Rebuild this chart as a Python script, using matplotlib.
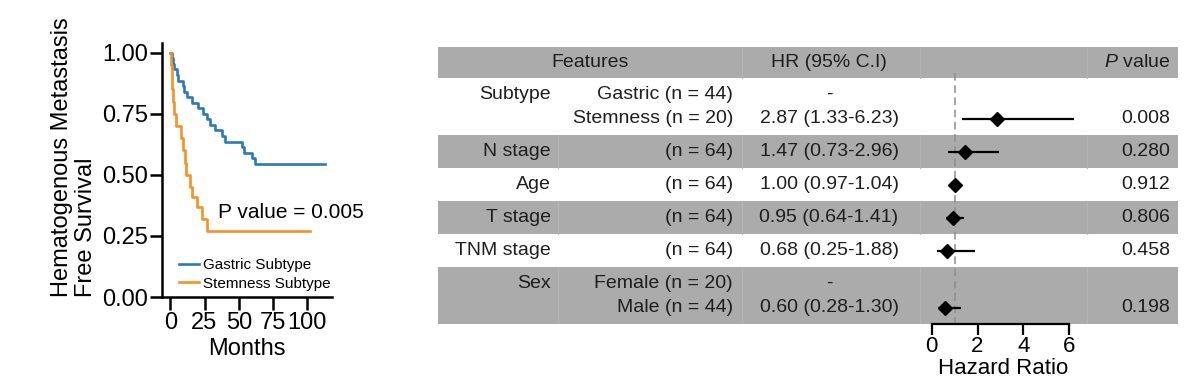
import matplotlib
matplotlib.use("Agg")
import matplotlib.pyplot as plt
import numpy as np

plt.rcParams['font.family'] = ['Liberation Sans', 'DejaVu Sans']
plt.rcParams['mathtext.fontset'] = 'custom'
plt.rcParams['mathtext.rm'] = 'Liberation Sans'
plt.rcParams['mathtext.it'] = 'Liberation Sans:italic'

# Kaplan-Meier curves (months, survival after each drop)
gastric_t = [0, 1, 2, 3, 5, 6, 9, 10, 12, 16, 20, 24, 27, 29, 33, 38, 40, 52, 54, 60, 62, 113]
gastric_s = [1.0, 0.977, 0.955, 0.932, 0.909, 0.886, 0.864, 0.841, 0.818, 0.795, 0.773,
             0.750, 0.727, 0.705, 0.682, 0.659, 0.636, 0.614, 0.591, 0.568, 0.545, 0.545]
stem_t = [0, 0.5, 1, 1.5, 2, 2.5, 4, 8, 9.5, 11, 11.5, 14.5, 16, 19.5, 23, 27, 102]
stem_s = [1.0, 0.95, 0.90, 0.85, 0.80, 0.75, 0.70, 0.65, 0.60, 0.55, 0.50, 0.45,
          0.41, 0.37, 0.32, 0.27, 0.27]
km_labels = ["Gastric Subtype", "Stemness Subtype"]
p_text = "P value = 0.005"

# forest table
features = ["Subtype", "N stage", "Age", "T stage", "TNM stage", "Sex"]
groups = [["Gastric (n = 44)", "Stemness (n = 20)"], ["(n = 64)"], ["(n = 64)"],
          ["(n = 64)"], ["(n = 64)"], ["Female (n = 20)", "Male (n = 44)"]]
hr_text = [["-", "2.87 (1.33-6.23)"], ["1.47 (0.73-2.96)"], ["1.00 (0.97-1.04)"],
           ["0.95 (0.64-1.41)"], ["0.68 (0.25-1.88)"], ["-", "0.60 (0.28-1.30)"]]
hr = [2.87, 1.47, 1.00, 0.95, 0.68, 0.60]
hr_lo = [1.33, 0.73, 0.97, 0.64, 0.25, 0.28]
hr_hi = [6.23, 2.96, 1.04, 1.41, 1.88, 1.30]
pvals = ["0.008", "0.280", "0.912", "0.806", "0.458", "0.198"]

blue = '#2E78B7'
orange = '#F39323'
grey = '#ABABAB'
txt = '#1E1E1E'

W, H = 1200, 383
fig = plt.figure(figsize=(12, 3.83), dpi=100)


def px_axes(x0, y0, x1, y1):
    # axes from pixel box (top-left origin)
    return fig.add_axes([x0 / W, (H - y1) / H, (x1 - x0) / W, (y1 - y0) / H])


# ---- KM plot ----
ax = px_axes(162, 43, 332, 297)
ax.step(gastric_t, gastric_s, where='post', color=blue, lw=1.9, label=km_labels[0])
ax.step(stem_t, stem_s, where='post', color=orange, lw=1.9, label=km_labels[1])
ax.set_xlim(-6, 118)
ax.set_ylim(0, 1.04)
ax.set_xticks([0, 25, 50, 75, 100])
ax.set_yticks([0, 0.25, 0.5, 0.75, 1.0])
ax.set_yticklabels(["0.00", "0.25", "0.50", "0.75", "1.00"])
for s in ['top', 'right']:
    ax.spines[s].set_visible(False)
for s in ['left', 'bottom']:
    ax.spines[s].set_linewidth(1.8)
ax.tick_params(axis='both', width=1.8, length=9, labelsize=17, color='black')
ax.tick_params(axis='y', pad=1)
ax.tick_params(axis='x', pad=2)
ax.set_xlabel("Months", fontsize=17, labelpad=3)
ax.set_ylabel("Hematogenous Metastasis\nFree Survival", fontsize=17,
              multialignment='left', linespacing=1.1)
ax.yaxis.set_label_coords(-0.385, 0.55)
ax.text(35, 0.348, p_text, fontsize=15, va='center', ha='left')
ax.legend(loc='lower left', bbox_to_anchor=(0.1, 0.025), frameon=False, fontsize=11,
          handlelength=1.3, handletextpad=0.25, labelspacing=0.3, borderpad=0,
          borderaxespad=0)

# ---- table ----
tab_x0, tab_x1 = 438, 1178
header_h, line_h, pad = 31, 24, 9
col_cuts = [558, 742, 920, 1087]
feat_x, grp_x, hr_x, p_x = 551, 733, 829, 1170

heights = [header_h] + [len(g) * line_h + pad for g in groups]
tops = np.concatenate([[47], 47 + np.cumsum(heights)])
tab_y1 = tops[-1]

axt = px_axes(tab_x0, 47, tab_x1, tab_y1)
axt.set_xlim(tab_x0, tab_x1)
axt.set_ylim(tab_y1, 47)
axt.axis('off')

shade = [True] + [i % 2 == 1 for i in range(len(features))]
for i, (top, h) in enumerate(zip(tops[:-1], heights)):
    if shade[i]:
        axt.axhspan(top, top + h, color=grey, lw=0, zorder=0)
        cuts = col_cuts[1:] if i == 0 else col_cuts
        for c in cuts:
            axt.plot([c, c], [top, top + h], color='#B4B4B4', lw=0.8, zorder=1)

fs = 14
hy = tops[0] + header_h / 2
axt.text((tab_x0 + col_cuts[1]) / 2, hy, "Features", ha='center', va='center', fontsize=fs, color=txt)
axt.text(hr_x, hy, "HR (95% C.I)", ha='center', va='center', fontsize=fs, color=txt)
axt.text(p_x, hy, "$P$ value", ha='right', va='center', fontsize=fs, color=txt)

mark_y = []
for i, name in enumerate(features):
    top = tops[i + 1]
    lines = [top + pad / 2 + line_h * (k + 0.5) for k in range(len(groups[i]))]
    axt.text(feat_x, lines[0], name, ha='right', va='center', fontsize=fs, color=txt)
    for k, y in enumerate(lines):
        axt.text(grp_x, y, groups[i][k], ha='right', va='center', fontsize=fs, color=txt)
        axt.text(hr_x, y, hr_text[i][k], ha='center', va='center', fontsize=fs, color=txt)
    axt.text(p_x, lines[-1], pvals[i], ha='right', va='center', fontsize=fs, color=txt)
    mark_y.append(lines[-1])

# ---- forest ----
axf = px_axes(col_cuts[2], 47, col_cuts[3], tab_y1)
axf.set_facecolor('none')
axf.set_ylim(tab_y1, 47)
axf.set_xlim(-11.7 / 22.9, (col_cuts[3] - col_cuts[2] - 11.7) / 22.9)
axf.plot([1, 1], [tops[1] - 5, tab_y1], color='#8C8C8C', lw=1.1, ls=(0, (5, 3)), zorder=2)
axf.hlines(mark_y, hr_lo, hr_hi, color='black', lw=1.6, zorder=3)
axf.plot(hr, mark_y, 'D', color='black', ms=7.5, zorder=4)
for s in ['top', 'right', 'left']:
    axf.spines[s].set_visible(False)
axf.spines['bottom'].set_bounds(0, 6)
axf.spines['bottom'].set_linewidth(1.6)
axf.set_yticks([])
axf.set_xticks([0, 2, 4, 6])
axf.tick_params(axis='x', width=1.6, length=8, labelsize=16, pad=1)
axf.set_xlabel("Hazard Ratio", fontsize=16, labelpad=0)

fig.savefig("out.png", dpi=100)
